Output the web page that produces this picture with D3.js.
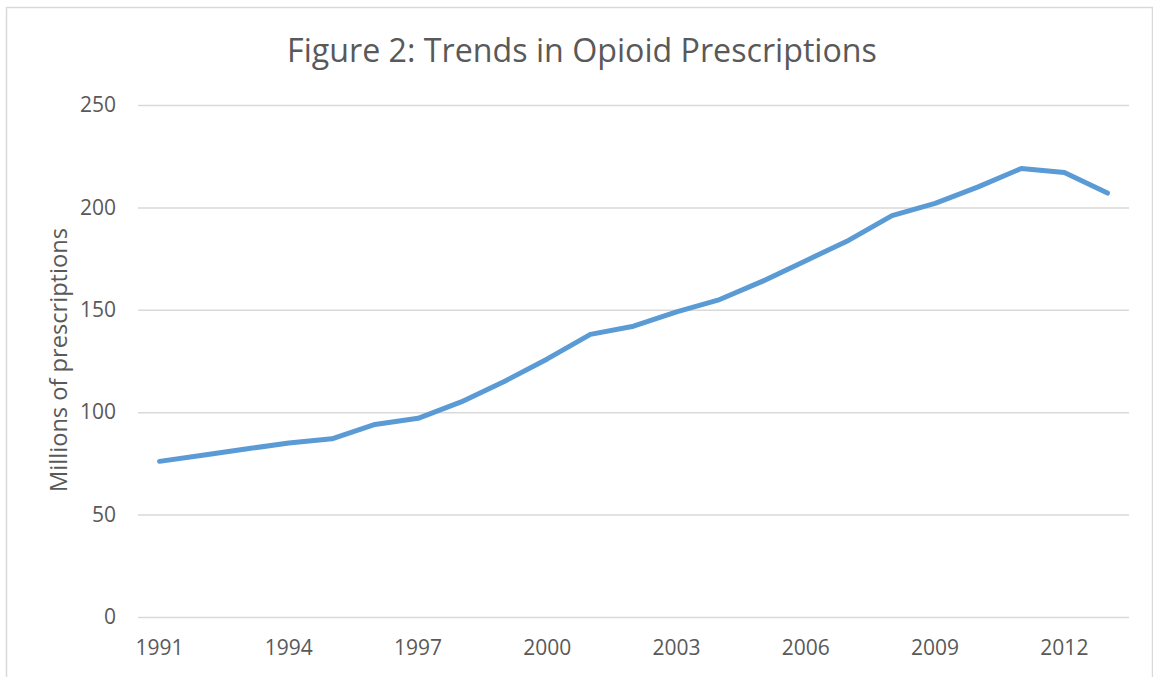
<!DOCTYPE html>
<html>
<head>
<meta charset="utf-8">
<script src="https://cdn.jsdelivr.net/npm/d3@7"></script>
<style>
  html, body { margin: 0; padding: 0; background: #fff; }
  svg { display: block; }
  text { font-family: "Open Sans", "Noto Sans", sans-serif; fill: #595959; }
</style>
</head>
<body>
<svg id="chart" width="1153" height="677"></svg>
<script>
// Opioid prescriptions per year, in millions
const years = d3.range(1991, 2014);
const prescriptions = [76, 79, 82, 85, 87, 94, 97, 105, 115, 126, 138, 142, 149, 155, 164, 174, 184, 196, 202, 210, 219, 217, 207];
const yTicks = [0, 50, 100, 150, 200, 250];
const xTickYears = [1991, 1994, 1997, 2000, 2003, 2006, 2009, 2012];
const titleText = "Figure 2: Trends in Opioid Prescriptions";
const yAxisTitle = "Millions of prescriptions";

const W = 1153, H = 677;
const plot = { left: 138, right: 1129, top: 105, bottom: 617 };

const svg = d3.select("#chart");

// outer chart frame
svg.append("rect")
  .attr("x", 6.5).attr("y", 7.5)
  .attr("width", W - 7).attr("height", H + 10)
  .attr("fill", "#fff")
  .attr("stroke", "#d9d9d9").attr("stroke-width", 1.5);

const x = d3.scaleBand().domain(years).range([plot.left, plot.right]);
const xc = d => x(d) + x.bandwidth() / 2;
const y = d3.scaleLinear().domain([0, 250]).range([plot.bottom, plot.top]);

// horizontal gridlines
const yAxis = d3.axisLeft(y).tickValues(yTicks).tickSize(-(plot.right - plot.left)).tickPadding(22);
const gy = svg.append("g").attr("transform", `translate(${plot.left},0)`).call(yAxis);
gy.select(".domain").remove();
gy.selectAll(".tick line").attr("stroke", "#d9d9d9").attr("stroke-width", 1.5);
gy.selectAll(".tick text")
  .style("font-size", "21px").style("fill", "#595959")
  .attr("font-family", null);

// category axis labels
const xAxis = d3.axisBottom(x).tickValues(xTickYears).tickSize(0).tickPadding(0);
const gx = svg.append("g").attr("transform", `translate(0,${plot.bottom})`).call(xAxis);
gx.select(".domain").remove();
gx.selectAll(".tick text")
  .attr("dy", null).attr("y", 38)
  .style("font-size", "21px").style("fill", "#595959")
  .attr("font-family", null);

// series line
const line = d3.line()
  .x((d, i) => xc(years[i]))
  .y(d => y(d));
svg.append("path")
  .datum(prescriptions)
  .attr("d", line)
  .attr("fill", "none")
  .attr("stroke", "#5b9bd5")
  .attr("stroke-width", 5)
  .attr("stroke-linejoin", "round")
  .attr("stroke-linecap", "round");

// fit a text node to a given width by adjusting its font size
function fitWidth(sel, width, base) {
  sel.style("font-size", base + "px");
  const w = sel.node().getComputedTextLength();
  sel.style("font-size", (base * width / w).toFixed(2) + "px");
}

const title = svg.append("text")
  .attr("x", 582).attr("y", 62)
  .attr("text-anchor", "middle")
  .text(titleText);
fitWidth(title, 590, 30);

const yt = svg.append("text")
  .attr("transform", `translate(67,360) rotate(-90)`)
  .attr("text-anchor", "middle")
  .text(yAxisTitle);
fitWidth(yt, 264, 22);
</script>
</body>
</html>
